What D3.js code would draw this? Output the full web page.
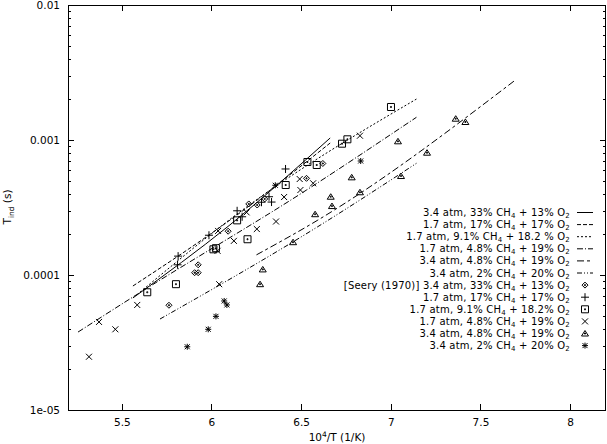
<!DOCTYPE html>
<html>
<head>
<meta charset="utf-8">
<script src="https://cdn.jsdelivr.net/npm/d3@7"></script>
<style>
  body { margin: 0; background: #fff; }
  text { font-family: "DejaVu Sans", sans-serif; font-size: 10.5px; fill: #000; }
  .legend text { font-size: 10px; letter-spacing: 0.2px; }
</style>
</head>
<body>
<script>
const w = 607;
const h = 444;

// axis ticks
const xTicks = [5.5, 6, 6.5, 7, 7.5, 8];
const yTicks = [1e-5, 1e-4, 1e-3, 1e-2];
const yTickLabels = ["1e-05", "0.0001", "0.001", "0.01"];

// model curves, [10^4/T, tau]
const model33 = [[5.562, 0.0000676], [6.103, 0.000235], [6.662, 0.001035]];
const model17 = [[5.562, 0.0000829], [6.103, 0.000255], [6.662, 0.000950]];
const model91 = [[5.601, 0.0000745], [6.158, 0.000293], [7.143, 0.00201]];
const model48lo = [[5.256, 0.0000378], [5.562, 0.0000687], [6.530, 0.000426], [7.143, 0.001473]];
const model48hi = [[6.251, 0.000141], [6.593, 0.000255], [7.690, 0.00275]];
const model2 = [[5.713, 0.0000472], [6.593, 0.000228], [7.143, 0.000672]];

// Seery (1970) measurements
const seery33 = [[5.763, 0.0000597], [5.926, 0.000119], [5.906, 0.000104], [5.926, 0.000104],
  [6.093, 0.000211], [6.208, 0.000336], [6.255, 0.000330], [6.297, 0.000366],
  [6.530, 0.000520], [6.621, 0.000670]];
const seery17 = [[5.811, 0.000119], [5.814, 0.000138], [5.986, 0.000197], [6.143, 0.000299],
  [6.171, 0.000270], [6.279, 0.000346], [6.321, 0.000380], [6.335, 0.000347], [6.413, 0.000610]];
const seery91 = [[5.642, 0.0000745], [5.802, 0.0000855], [6.011, 0.000155], [6.025, 0.000158],
  [6.143, 0.000254], [6.201, 0.000184], [6.414, 0.000464], [6.535, 0.000687],
  [6.587, 0.000653], [6.728, 0.000939], [6.758, 0.001012], [7.001, 0.001756]];
const seery48lo = [[5.317, 0.0000248], [5.373, 0.0000449], [5.464, 0.0000396], [5.586, 0.0000600],
  [6.037, 0.000212], [6.034, 0.000151], [6.043, 0.0000855], [6.125, 0.000179],
  [6.196, 0.000291], [6.253, 0.000219], [6.360, 0.000249], [6.405, 0.000378],
  [6.492, 0.000514], [6.496, 0.000426], [6.567, 0.000478], [6.828, 0.001076]];
const seery48hi = [[6.286, 0.000110], [6.271, 0.0000855], [6.455, 0.000175], [6.578, 0.000282],
  [6.665, 0.000380], [6.672, 0.000324], [6.782, 0.000529], [6.828, 0.000410],
  [7.040, 0.000978], [7.057, 0.000541], [7.202, 0.000805], [7.362, 0.001438], [7.416, 0.001359]];
const seery2 = [[5.865, 0.0000294], [5.982, 0.0000396], [6.025, 0.0000494], [6.071, 0.0000642],
  [6.086, 0.0000600], [6.356, 0.000462], [6.832, 0.000699]];

const lineLabels = [
  "3.4 atm, 33% CH_4 + 13% O_2",
  "1.7 atm, 17% CH_4 + 17% O_2",
  "1.7 atm, 9.1% CH_4 + 18.2 % O_2",
  "1.7 atm, 4.8% CH_4 + 19% O_2",
  "3.4 atm, 4.8% CH_4 + 19% O_2",
  "3.4 atm, 2% CH_4 + 20% O_2"
];
const pointLabels = [
  "[Seery (1970)] 3.4 atm, 33% CH_4 + 13% O_2",
  "1.7 atm, 17% CH_4 + 17% O_2",
  "1.7 atm, 9.1% CH_4 + 18.2% O_2",
  "1.7 atm, 4.8% CH_4 + 19% O_2",
  "3.4 atm, 4.8% CH_4 + 19% O_2",
  "3.4 atm, 2% CH_4 + 20% O_2"
];

const models = [model33, model17, model91, model48lo, model48hi, model2];
const points = [seery33, seery17, seery91, seery48lo, seery48hi, seery2];
const dashes = ["none", "4,2", "2,2", "6,2,1,2", "7,3,3,3", "5,2,1,2,1,2"];
const symbols = ["diamond", "plus", "box", "cross", "triangle", "star"];

const svg = d3.select("body").append("svg")
  .attr("width", w)
  .attr("height", h);

const x = d3.scaleLinear().domain([5.2, 8.2]).range([68, 606]);
const y = d3.scaleLog().domain([1e-5, 1e-2]).range([410, 5]);

// minor log ticks 2..9 per decade
let minorY = [];
for (let e = -5; e < -2; e++) {
  for (let m = 2; m < 10; m++) minorY.push(m * Math.pow(10, e));
}

function noDomain(g) { g.select(".domain").remove(); }

svg.append("g").attr("transform", "translate(0,410)")
  .call(d3.axisBottom(x).tickValues(xTicks).tickSize(-6).tickSizeOuter(0)
    .tickPadding(9).tickFormat(d => String(d)))
  .call(noDomain);
svg.append("g").attr("transform", "translate(0,5)")
  .call(d3.axisTop(x).tickValues(xTicks).tickSize(-6).tickSizeOuter(0).tickFormat(""))
  .call(noDomain);
svg.append("g").attr("transform", "translate(68,0)")
  .call(d3.axisLeft(y).tickValues(yTicks).tickSize(-6).tickSizeOuter(0)
    .tickPadding(8).tickFormat((d, i) => yTickLabels[i]))
  .call(noDomain);
svg.append("g").attr("transform", "translate(68,0)")
  .call(d3.axisLeft(y).tickValues(minorY).tickSize(-3).tickSizeOuter(0).tickFormat(""))
  .call(noDomain);
svg.append("g").attr("transform", "translate(606,0)")
  .call(d3.axisRight(y).tickValues(yTicks).tickSize(-6).tickSizeOuter(0).tickFormat(""))
  .call(noDomain);
svg.append("g").attr("transform", "translate(606,0)")
  .call(d3.axisRight(y).tickValues(minorY).tickSize(-3).tickSizeOuter(0).tickFormat(""))
  .call(noDomain);

svg.selectAll(".tick line").attr("stroke", "#000").attr("shape-rendering", "crispEdges");

// frame
svg.append("rect")
  .attr("x", 68.5).attr("y", 5.5)
  .attr("width", 537).attr("height", 404.5)
  .attr("fill", "none").attr("stroke", "#000")
  .attr("shape-rendering", "crispEdges");

// axis titles
const xl = svg.append("text").attr("x", 337).attr("y", 441).attr("text-anchor", "middle");
xl.append("tspan").text("10");
xl.append("tspan").attr("dy", -4).attr("font-size", "7.5px").text("4");
xl.append("tspan").attr("dy", 4).text("/T  (1/K)");

const yl = svg.append("text").attr("transform", "translate(11,207) rotate(-90)")
  .attr("text-anchor", "middle");
yl.append("tspan").text("T");
yl.append("tspan").attr("dy", 2.5).attr("font-size", "7.5px").text("ind");
yl.append("tspan").attr("dy", -2.5).text(" (s)");

// marker shapes
function symbolPath(type) {
  const dot = "M-0.5,-0.5h1v1h-1z";
  if (type == "diamond") return "M0,-3L3,0L0,3L-3,0Z" + dot;
  if (type == "plus") return "M-4,0H4M0,-4V4";
  if (type == "box") return "M-3.5,-3.5H3.5V3.5H-3.5Z" + dot;
  if (type == "cross") return "M-3,-3L3,3M-3,3L3,-3";
  if (type == "triangle") return "M0,-3L3.5,2.5L-3.5,2.5Z" + dot;
  return "M-3,0H3M0,-3V3M-2.5,-2.5L2.5,2.5M-2.5,2.5L2.5,-2.5";
}

const line = d3.line()
  .x(d => x(d[0]))
  .y(d => y(d[1]))
  .curve(d3.curveMonotoneX);

svg.selectAll(".model")
  .data(models)
  .enter()
  .append("path")
  .attr("class", "model")
  .attr("d", line)
  .attr("fill", "none")
  .attr("stroke", "#000")
  .attr("stroke-width", 1)
  .attr("stroke-dasharray", (d, i) => dashes[i]);

points.forEach(function(ds, i) {
  svg.selectAll(".pt" + i)
    .data(ds)
    .enter()
    .append("path")
    .attr("class", "pt" + i)
    .attr("transform", d => "translate(" + x(d[0]) + "," + y(d[1]) + ")")
    .attr("d", symbolPath(symbols[i]))
    .attr("fill", "none")
    .attr("stroke", "#000")
    .attr("stroke-width", 1);
});

// legend
function label(sel, str) {
  const parts = str.split(/_(\d)/);
  parts.forEach(function(p, k) {
    if (k % 2 == 1) {
      sel.append("tspan").attr("dy", 2).attr("font-size", "7px").text(p);
    } else if (p.length) {
      sel.append("tspan").attr("dy", k > 0 ? -2 : 0).text(p);
    }
  });
}

const legendY = i => 212.5 + i * 12.1;
const legendLabels = lineLabels.concat(pointLabels);
const legend = svg.append("g").attr("class", "legend");

legendLabels.forEach(function(str, i) {
  const t = legend.append("text")
    .attr("x", 570)
    .attr("y", legendY(i) + 3.5)
    .attr("text-anchor", "end");
  label(t, str);
});

lineLabels.forEach(function(str, i) {
  legend.append("line")
    .attr("x1", 577).attr("x2", 593)
    .attr("y1", legendY(i)).attr("y2", legendY(i))
    .attr("stroke", "#000")
    .attr("stroke-dasharray", dashes[i]);
});

pointLabels.forEach(function(str, i) {
  legend.append("path")
    .attr("transform", "translate(585," + legendY(i + 6) + ")")
    .attr("d", symbolPath(symbols[i]))
    .attr("fill", "none")
    .attr("stroke", "#000");
});
</script>
</body>
</html>
